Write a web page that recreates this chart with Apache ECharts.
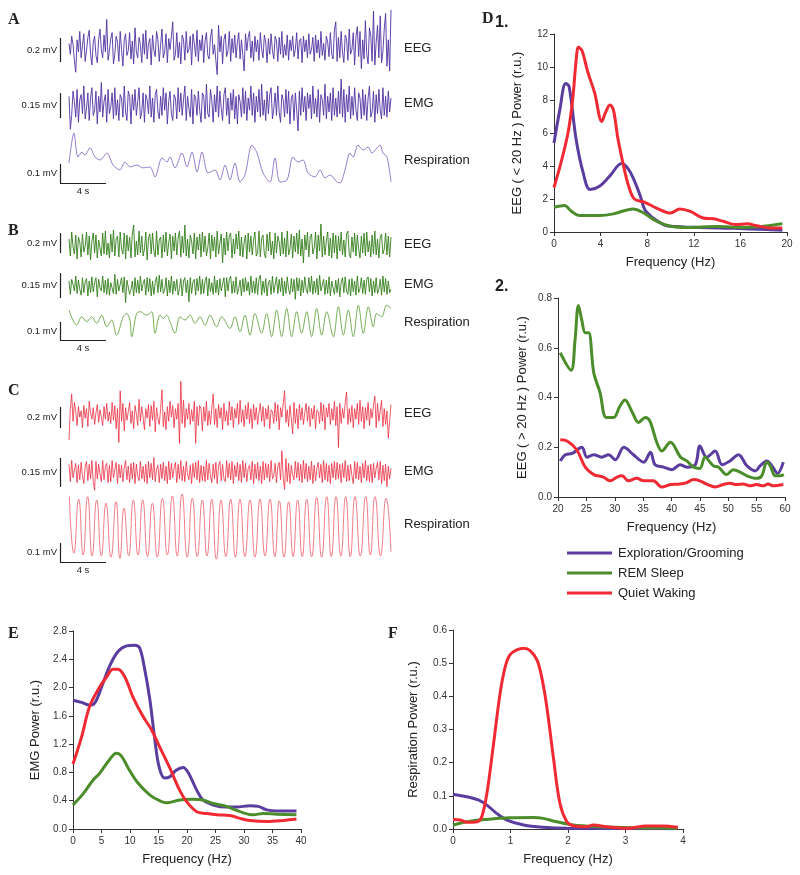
<!DOCTYPE html>
<html>
<head>
<meta charset="utf-8">
<script src="https://cdn.jsdelivr.net/npm/echarts@6/dist/echarts.min.js"></script>
<style>
  html, body { margin: 0; padding: 0; background: #fff; }
  #chart { width: 800px; height: 875px; }
</style>
</head>
<body>
<div id="chart"></div>
<script>
// raw recordings, uV, 240 samples over 28 s
const traceSeconds = 28

const eegA = [30,-60,90,20,-110,-210,60,-40,130,-90,10,110,-120,-30,80,140,-60,-150,40,90,
  -70,-130,60,150,-20,-90,100,-40,230,-110,-30,70,120,-140,-60,90,40,-120,130,-20,
  -160,60,110,-70,-30,120,-100,50,-140,160,-40,-90,80,20,-130,110,-60,140,-100,30,
  70,-150,100,-30,-80,130,60,-120,20,150,-90,-40,110,-130,70,-20,90,210,-110,-60,
  120,-90,40,-140,100,60,-110,130,-50,-20,90,-150,110,30,-80,140,-120,60,-30,100,
  -130,50,120,-70,-100,80,150,-60,20,-110,-230,180,-40,90,-140,60,110,-80,-30,130,
  -120,70,-50,100,-90,40,120,-100,60,-70,-200,110,-30,80,130,-90,50,-120,90,-40,
  60,-110,120,-20,-90,100,40,-130,70,-60,110,-30,-100,90,50,-120,80,-60,130,-90,
  20,-70,100,-110,60,-30,90,-80,-20,120,-100,50,70,-130,90,-40,60,-90,110,-60,
  -20,80,-120,100,-50,60,-90,130,-70,30,-110,90,40,-80,120,-60,-100,140,210,-120,
  80,-90,130,-40,-130,100,70,-110,150,-60,-20,120,-150,90,170,-80,130,-180,60,-100,
  220,-60,-140,160,90,-120,300,-150,40,180,-90,260,-130,-40,150,280,-160,60,-200,310]

const emgA = [50,-140,-60,80,20,-70,90,-100,30,60,-50,110,-80,-20,70,-90,40,100,-60,-30,
  80,-110,50,-40,130,-70,20,60,-100,90,-50,-10,70,-80,100,-60,30,-90,60,40,
  -70,110,-40,-90,80,50,-110,60,-30,90,-60,20,100,-80,-40,70,-100,60,30,-50,
  110,-70,40,-100,60,90,-40,-80,50,-60,100,-30,70,-110,20,80,-50,-90,60,40,
  -80,100,-40,70,-60,30,110,-90,50,-20,-70,90,-110,60,40,-60,80,-30,-100,70,
  50,-80,120,-50,-70,90,30,-100,60,-40,110,-70,80,-20,-90,60,100,-60,40,-110,
  70,-30,90,-80,50,-110,60,20,-70,100,-50,80,-90,40,-30,110,-60,70,-100,50,
  -40,90,-70,120,-60,30,-90,80,-50,60,100,-80,-20,70,-60,110,-40,-100,60,30,
  -70,90,-50,80,-110,40,60,-90,70,-30,-150,80,-60,100,-40,50,-90,70,-20,60,
  -80,110,-50,40,-70,90,-100,60,30,-60,120,-80,50,-40,70,-90,100,-60,40,-70,
  80,-50,150,-70,90,-100,60,-40,110,-80,50,-60,100,-30,-90,70,40,-80,90,-60,
  60,-90,40,110,-70,-40,80,-100,60,-50,90,-30,-80,100,-60,50,-70,80,-40,40]

const respATime = [0,0.43,0.78,1.13,1.39,1.83,2.26,2.7,3.3,3.83,4.43,4.87,5.3,5.91,6.43,7.04,7.48,8.09,8.52,8.78,
  9.22,9.83,10.26,10.7,11.13,11.57,12.09,12.7,13.13,13.57,14,14.43,14.87,15.3,15.91,16.35,16.87,17.48,17.91,18.35,
  18.96,19.48,19.91,20.35,20.78,21.39,21.83,22.26,22.7,23.3,23.57,24,24.43,24.7,25.13,25.57,26,26.35,26.78,27.04,
  27.3,27.65,28]
const respAValue = [106,265,138,164,148,186,138,122,159,95,69,111,85,95,80,85,32,133,111,138,
  80,159,85,164,58,164,53,69,16,95,16,106,5,42,201,159,53,5,133,5,
  16,138,111,122,53,32,69,27,42,5,0,69,159,138,201,175,191,159,186,201,
  159,138,5]

const eegB = [60,-110,130,-20,-90,100,-140,80,30,-120,110,-70,-10,130,-100,90,-150,40,120,-80,
  100,-130,50,70,-110,120,-90,140,-100,20,-130,110,-70,150,-110,60,90,-120,130,-40,
  -90,120,-140,100,-60,80,-130,110,200,-120,40,-100,140,-80,90,-110,-40,130,-150,70,
  110,-90,120,-60,-120,140,-100,50,80,-130,100,-70,130,-110,20,110,-140,90,-60,120,
  -100,70,140,-120,90,-80,200,-110,60,-130,100,40,-90,120,-140,80,-50,110,-120,130,
  -70,90,-110,-30,120,-140,100,-60,80,-120,140,-90,20,110,-180,70,-100,130,-60,90,
  120,-130,60,-90,110,-40,140,-110,80,-120,30,100,-140,120,-70,90,-100,50,130,-110,
  -80,140,-120,70,100,-90,-130,110,-60,130,-100,40,-140,120,-80,90,30,-110,130,-90,
  70,-120,140,-100,-40,110,-130,90,-70,120,-90,150,-110,60,-180,100,-50,130,-120,80,
  110,-90,-30,130,-140,100,-60,210,-120,90,-100,40,130,-110,70,-130,120,-80,100,-140,
  90,-60,130,-100,50,-120,110,140,-90,-130,80,-70,120,-110,100,-40,-130,90,-80,120,
  -110,130,-70,40,-120,100,-90,140,-100,60,-130,80,110,-90,-40,120,-100,90,-120,80]

const emgB = [30,-50,40,10,-30,60,-45,35,-20,-55,50,-40,25,45,-60,30,-40,55,-35,20,
  50,-65,40,-10,-30,60,-40,35,-50,45,-55,20,30,-45,70,-50,40,-30,-20,50,
  -40,55,-100,35,45,-50,-20,30,-60,50,-40,35,-45,60,-30,15,40,-55,50,-35,
  45,-60,30,-50,20,55,-40,65,-35,40,-45,-25,50,-60,35,-40,60,-50,30,-30,
  40,-55,-15,45,-60,30,50,-40,35,-95,50,-45,25,40,-55,45,-30,60,-50,40,
  -45,30,55,-60,45,-35,20,-50,60,-40,35,-55,45,-30,-20,50,-65,50,-30,40,
  60,-45,30,-40,55,-50,-15,35,-60,45,-35,50,-30,25,-55,60,-40,30,-45,50,
  -50,40,65,-55,30,-40,45,-60,20,35,-50,60,-40,-30,55,-45,40,-35,50,-60,
  30,-45,55,-20,-50,45,-35,40,-80,50,-30,45,-60,35,-40,55,-20,-45,50,-35,
  60,-50,30,-40,45,-55,65,-30,-20,40,-50,35,-45,55,-60,30,40,-50,35,-40,
  45,-65,20,50,-40,55,-30,-50,40,-60,45,-35,30,-55,60,-40,-15,50,-45,35,
  -50,40,55,-35,45,-60,30,-40,50,-45,-20,40,-55,60,-35,45,-50,30,-40,-20]

const respBTime = [0,0.67,1.1,1.54,1.97,2.41,2.84,3.28,3.71,4.14,4.72,5.01,5.3,5.45,5.88,6.17,6.75,7.19,7.48,7.91,
  8.2,8.49,8.78,9.22,9.65,10.09,10.52,10.96,11.39,11.83,12.26,12.84,13.28,14,14.43,14.87,15.3,15.74,16.17,16.75,
  17.19,17.62,18.06,18.49,18.93,19.36,19.8,20.23,20.67,21.1,21.54,21.97,22.41,22.99,23.42,23.86,24.29,24.72,25.16,25.59,
  26.03,26.46,26.75,27.19,27.62,28]
const respBValue = [165,82,128,101,128,92,137,73,110,27,128,146,110,18,146,156,137,156,37,137,
  119,137,101,37,128,110,137,92,128,82,137,73,128,64,128,46,137,27,146,37,
  146,18,165,18,174,18,156,37,156,18,174,27,156,18,183,27,165,18,192,37,
  183,73,146,128,192,174]

const eegC = [-240,60,200,-60,120,30,-100,80,-20,40,-120,90,-30,60,-110,130,20,-40,70,-90,
  20,100,-70,50,-20,-100,80,-40,110,-60,30,-80,120,-50,90,-130,60,-260,230,-60,
  110,-150,70,-50,30,120,-80,40,-130,90,10,-100,150,-60,80,-20,-140,60,-30,100,
  -110,90,-50,130,-160,70,-30,-90,60,240,-110,30,-140,80,-60,130,-20,90,-120,60,
  -40,110,-270,320,-80,140,-120,60,-40,110,-90,50,-60,130,-270,80,-100,90,60,-150,
  80,-60,130,-100,40,-90,70,200,-90,60,-120,100,-30,70,-140,110,-60,40,-100,130,
  -50,80,-120,60,-30,110,-90,140,-70,50,-110,90,-40,120,-80,60,-130,100,-50,70,
  -90,20,110,-60,80,-110,60,-40,90,-130,50,30,-80,120,-60,100,-140,70,-20,110,
  230,-70,50,-110,90,-40,-180,120,-80,60,-130,100,-50,70,-90,20,110,-60,80,-110,
  60,-40,90,-130,50,30,-80,120,-60,100,-140,70,-20,110,-90,60,-50,130,-100,80,
  -310,110,-80,60,-30,120,220,-90,60,-70,90,-120,60,-40,110,-90,140,-60,80,-130,
  70,-50,120,-100,60,-30,90,180,-120,110,-60,40,140,-110,60,-90,40,-220,-60,100]

const emgC = [40,-50,60,-30,10,45,-55,35,-40,50,-20,-60,30,55,-45,40,-35,60,-50,-95,
  55,-35,40,-10,-50,60,-40,30,45,-55,35,-50,60,-30,-40,50,-60,40,-30,35,
  -50,20,60,-40,30,-55,45,-35,50,-60,40,-20,-45,55,-35,30,-50,40,-60,55,
  -30,45,-40,75,-50,15,35,-55,40,-35,50,-45,30,-60,55,-40,45,-30,20,50,
  -55,40,-35,60,-45,30,-50,55,-10,-40,35,-60,45,-30,50,-40,60,-55,35,-45,
  30,-50,60,-40,45,-20,-55,40,-35,50,-60,30,55,-45,40,-35,-50,60,-30,45,
  -40,55,-60,35,-25,50,-45,40,-55,60,-30,45,-50,20,35,-40,55,-60,40,-35,
  50,-45,30,-60,55,-40,45,-30,40,-50,60,-35,-20,45,-55,30,50,-40,110,-30,
  -90,70,-50,45,-60,35,-15,-40,55,-30,50,-45,40,-55,60,-35,45,-50,30,-40,
  55,-60,35,-45,20,50,-30,40,-55,60,-40,45,-50,35,-60,45,-30,55,-40,50,
  -35,40,-55,45,-30,60,-50,35,-45,40,-20,-60,55,-35,50,-40,30,-55,45,-30,
  60,-45,35,-50,40,-55,45,-30,20,50,-40,55,-60,35,-45,40,-75,30,-35,20]

// quiet waking breathing: peaks and troughs
const respCPeakTime = [0.03,0.84,1.62,2.41,3.22,4.09,4.78,5.59,6.41,7.25,8.12,8.99,9.83,10.72,11.59,12.41,13.22,14.06,14.87,15.74,
  16.61,17.48,18.29,19.1,19.88,20.67,21.54,22.41,23.22,24.06,24.87,25.8,26.61,27.57]
const respCPeak = [344,330,344,326,309,317,282,326,326,309,335,347,358,335,326,330,326,330,330,326,
  330,330,322,317,326,330,340,344,344,344,344,344,344,335]
const respCTroughTime = [0.43,1.23,2.01,2.81,3.65,4.43,5.19,6,6.83,7.68,8.55,9.41,10.28,11.15,12,12.81,13.64,14.47,15.3,16.17,
  17.04,17.9,18.7,19.49,20.28,21.1,21.97,22.81,23.64,24.46,25.33,26.2,27.09,28]
const respCTrough = [46,37,32,32,25,19,32,37,28,25,37,32,25,28,32,14,28,25,28,25,
  32,28,25,28,28,28,25,28,32,28,32,37,32,54]

// power spectra (r.u.)
const d1ExploFreq = [0,0.5,1.0,1.3,1.9,2.5,3.1,3.9,4.8,5.8,6.4,6.9,7.4,7.8,8.5,9.4,10,12.5,15.4,18.3,19.6]
const d1ExploPow = [5.4,7.4,9.0,8.8,5.6,3.6,2.57,2.77,3.4,4.15,3.8,3.1,2.2,1.35,0.85,0.45,0.35,0.27,0.22,0.15,0.1]
const d1RemFreq = [0,0.9,1.5,2.2,3.9,5.1,6.8,7.7,8.8,10,11.4,14,16.3,18,19.6]
const d1RemPow = [1.5,1.6,1.25,1.0,1.0,1.1,1.4,1.15,0.65,0.35,0.28,0.33,0.28,0.35,0.5]
const d1QuietFreq = [0,0.6,1.2,1.6,1.9,2.1,2.4,2.9,3.5,4.1,4.4,4.8,5.1,5.5,6.1,6.4,6.9,7.8,8.8,10,10.8,11.7,12.8,13.7,14.5,15.6,16.6,17.4,18.6,19.6]
const d1QuietPow = [2.7,4.2,6.0,8.0,10.4,11.2,11.0,9.7,8.4,6.7,7.2,7.7,7.4,5.6,3.6,2.8,2.0,1.8,1.45,1.15,1.4,1.25,0.85,0.8,0.65,0.45,0.5,0.38,0.24,0.24]

const d2ExploFreq = [20.4,21.3,22.5,24.2,25.1,26.3,27.7,28.9,30.1,31.6,33.3,35.1,36.3,37.1,38.6,40.1,41.5,42.7,44.2,45,46.2,47.7,48.9,50.3,51.8,53.3,54.8,55.6,56.8,57.7,58.7,59.7]
const d2ExploPow = [0.145,0.17,0.175,0.2,0.16,0.17,0.16,0.17,0.15,0.2,0.17,0.14,0.18,0.13,0.12,0.11,0.13,0.12,0.13,0.205,0.16,0.185,0.13,0.145,0.17,0.125,0.105,0.125,0.145,0.125,0.095,0.14]
const d2RemFreq = [20.4,22.3,23,23.6,24.2,24.8,25.4,26.3,27.4,28.5,29.8,30.9,31.8,33,34.2,35.4,36.2,37.4,38.3,39.8,41.6,42.7,43.9,45,45.9,47.4,48.3,49.7,50.9,52.1,53.3,55,55.9,56.8,57.4,58.3,59.1,59.8]
const d2RemPow = [0.58,0.51,0.63,0.77,0.71,0.66,0.66,0.5,0.42,0.32,0.32,0.365,0.39,0.345,0.3,0.32,0.305,0.22,0.185,0.22,0.16,0.145,0.12,0.115,0.16,0.125,0.12,0.09,0.11,0.1,0.085,0.075,0.085,0.14,0.125,0.085,0.085,0.09]
const d2QuietFreq = [20.4,21.6,23.3,24.8,26.3,28,29.2,30.4,31.3,32.4,33.9,35.1,36.8,38.3,39.8,41.5,42.7,43.9,45,46.2,47.7,49.1,50.3,51.5,52.6,53.8,55,56.2,57,57.9,59.7]
const d2QuietPow = [0.23,0.225,0.19,0.12,0.09,0.08,0.065,0.08,0.085,0.065,0.075,0.065,0.065,0.04,0.05,0.052,0.058,0.07,0.065,0.052,0.04,0.05,0.055,0.05,0.052,0.045,0.05,0.045,0.052,0.045,0.05]

const eExploFreq = [0,1.5,2.9,3.8,4.7,6.4,7.9,9.4,10.8,11.7,12.6,13.5,14.3,15.1,16.1,17,18.1,19.3,20.2,21.7,22.8,24.6,26.9,28.7,31,32.5,34,35.7,39.2]
const eExploPow = [1.82,1.79,1.75,1.78,1.94,2.3,2.51,2.59,2.6,2.56,2.25,1.82,1.3,0.88,0.72,0.74,0.83,0.87,0.8,0.55,0.41,0.34,0.31,0.31,0.33,0.32,0.27,0.255,0.255]
const eRemFreq = [0,1.8,3.5,4.7,6.4,7.6,8.5,9.7,11.4,13.5,15.2,16.4,18.7,21,22.8,24.6,26.9,29.3,31.6,33.4,35.7,39.2]
const eRemPow = [0.34,0.5,0.69,0.79,0.98,1.07,1.03,0.86,0.65,0.48,0.4,0.37,0.41,0.42,0.41,0.36,0.32,0.245,0.2,0.22,0.21,0.2]
const eQuietFreq = [0,1.5,2.9,4.7,5.9,7,7.9,9.1,10.5,12.3,13.8,15.2,17,18.7,19.9,21.7,23.4,25.2,27.5,29.3,31,34,36.9,39.2]
const eQuietPow = [0.92,1.3,1.73,2.01,2.15,2.26,2.26,2.15,1.87,1.59,1.4,1.16,0.86,0.55,0.39,0.245,0.22,0.2,0.19,0.15,0.12,0.105,0.12,0.14]

const fExploFreq = [0,0.24,0.45,0.59,0.76,0.94,1.23,1.57,1.98,3.91]
const fExploPow = [0.105,0.097,0.087,0.072,0.047,0.027,0.012,0.005,0.002,0.001]
const fRemFreq = [0,0.24,0.59,0.99,1.4,1.57,1.8,2.09,2.55,3.13,3.91]
const fRemPow = [0.012,0.022,0.029,0.034,0.035,0.032,0.022,0.012,0.007,0.004,0.002]
const fQuietFreq = [0,0.13,0.24,0.42,0.5,0.59,0.7,0.82,0.91,0.99,1.11,1.23,1.34,1.46,1.54,1.63,1.75,1.86,1.98,2.09,2.32,2.44,2.67,3.02,3.36,3.65,3.91]
const fQuietPow = [0.029,0.027,0.02,0.022,0.037,0.108,0.25,0.41,0.49,0.525,0.54,0.545,0.538,0.51,0.46,0.37,0.21,0.077,0.022,0.01,0.007,0.012,0.007,0.002,0.009,0.009,0.005]

const stateNames = ['Exploration/Grooming', 'REM Sleep', 'Quiet Waking']
const stateColors = ['#5a3d9e', '#4c8d2b', '#f02a33']

const sans = 'Liberation Sans, Arial, Helvetica, sans-serif'
const serif = 'Liberation Serif, Times New Roman, serif'

const zip = (xs, ys) => xs.map((x, i) => [x, ys[i]])
const sampled = vals => vals.map((v, i) => [i * traceSeconds / (vals.length - 1), v])
const interleave = (t1, v1, t2, v2) => {
  const out = []
  t1.forEach((t, i) => {
    out.push([t, v1[i]])
    if (i < t2.length) out.push([t2[i], v2[i]])
  })
  if (t2.length > t1.length) out.push([t2[t2.length - 1], v2[v2.length - 1]])
  return out
}

const grid = []
const xAxis = []
const yAxis = []
const series = []

// one raw trace strip
function addTrace(top, height, yMin, yMax, data, color, width, smooth) {
  const idx = grid.length
  grid.push({ left: 69, width: 322, top: top, height: height })
  xAxis.push({ type: 'value', gridIndex: idx, min: 0, max: traceSeconds, show: false })
  yAxis.push({ type: 'value', gridIndex: idx, min: yMin, max: yMax, show: false })
  series.push({
    type: 'line', xAxisIndex: idx, yAxisIndex: idx, data: data,
    showSymbol: false, smooth: smooth || false, silent: true,
    lineStyle: { color: color, width: width }
  })
}

addTrace(8, 70, -258, 325, sampled(eegA), '#4f32a0', 0.9)
addTrace(78, 54, -156, 156, sampled(emgA), '#4f32a0', 0.9)
addTrace(128, 57, -11, 292, zip(respATime, respAValue), '#7a5cc0', 0.8, 0.3)
addTrace(222, 44, -210, 230, sampled(eegB), '#337f1c', 0.9)
addTrace(270, 36, -120, 96, sampled(emgB), '#337f1c', 0.9)
addTrace(303, 39, -11, 204, zip(respBTime, respBValue), '#55992f', 0.8, 0.35)
addTrace(380, 70, -333, 333, sampled(eegC), '#ea2438', 0.75)
addTrace(446, 48, -114, 135, sampled(emgC), '#ea2438', 0.75)
addTrace(490, 74, -11, 379, interleave(respCPeakTime, respCPeak, respCTroughTime, respCTrough), '#ef5a68', 0.8, 0.55)

// one spectrum panel
function addSpectrum(box, xMin, xMax, xStep, yMax, yStep, yDigits, yName, yGap, curves) {
  const idx = grid.length
  grid.push(box)
  const axisLine = { show: true, lineStyle: { color: '#333', width: 1 } }
  const axisTick = { show: true, length: 4, lineStyle: { color: '#333' } }
  xAxis.push({
    type: 'value', gridIndex: idx, min: xMin, max: xMax, interval: xStep,
    axisLine: axisLine, axisTick: axisTick, splitLine: { show: false },
    axisLabel: { color: '#333', fontSize: 10, fontFamily: sans, margin: 7 },
    name: 'Frequency (Hz)', nameLocation: 'middle', nameGap: 24,
    nameTextStyle: { color: '#222', fontSize: 13, fontFamily: sans }
  })
  yAxis.push({
    type: 'value', gridIndex: idx, min: 0, max: yMax, interval: yStep,
    axisLine: axisLine, axisTick: axisTick, splitLine: { show: false },
    axisLabel: {
      color: '#333', fontSize: 10, fontFamily: sans, margin: 6,
      formatter: v => yDigits ? v.toFixed(yDigits) : String(Math.round(v))
    },
    name: yName, nameLocation: 'middle', nameGap: yGap, nameRotate: 90,
    nameTextStyle: { color: '#222', fontSize: 13, fontFamily: sans }
  })
  curves.forEach((c, k) => {
    series.push({
      type: 'line', name: stateNames[k], xAxisIndex: idx, yAxisIndex: idx,
      data: zip(c[0], c[1]), showSymbol: false, smooth: 0.35,
      lineStyle: { color: stateColors[k], width: 3 },
      itemStyle: { color: stateColors[k] }
    })
  })
}

addSpectrum({ left: 554, width: 233, top: 34, height: 198 }, 0, 20, 4, 12, 2, 0,
  'EEG ( < 20 Hz ) Power (r.u.)', 30,
  [[d1ExploFreq, d1ExploPow], [d1RemFreq, d1RemPow], [d1QuietFreq, d1QuietPow]])
addSpectrum({ left: 558, width: 227, top: 298, height: 199 }, 20, 60, 5, 0.8, 0.2, 1,
  'EEG ( > 20 Hz ) Power (r.u.)', 29,
  [[d2ExploFreq, d2ExploPow], [d2RemFreq, d2RemPow], [d2QuietFreq, d2QuietPow]])
addSpectrum({ left: 73, width: 228, top: 631, height: 198 }, 0, 40, 5, 2.8, 0.4, 1,
  'EMG Power (r.u.)', 31,
  [[eExploFreq, eExploPow], [eRemFreq, eRemPow], [eQuietFreq, eQuietPow]])
addSpectrum({ left: 453, width: 230, top: 630, height: 199 }, 0, 4, 1, 0.6, 0.1, 1,
  'Respiration Power (r.u.)', 33,
  [[fExploFreq, fExploPow], [fRemFreq, fRemPow], [fQuietFreq, fQuietPow]])

// labels and scale bars
const txt = (x, y, s, opt) => ({
  type: 'text', x: x, y: y, silent: true,
  style: Object.assign({ text: s, fill: '#222', font: '13px ' + sans, textVerticalAlign: 'middle' }, opt || {})
})
const bar = (x1, y1, x2, y2) => ({
  type: 'line', silent: true,
  shape: { x1: x1, y1: y1, x2: x2, y2: y2 },
  style: { stroke: '#222', lineWidth: 1.2 }
})

const graphic = []
;[['A', 12], ['B', 223], ['C', 383]].forEach(p => {
  graphic.push(txt(8, p[1], p[0], { font: 'bold 16px ' + serif, textVerticalAlign: 'top' }))
})
graphic.push(txt(482, 11, 'D', { font: 'bold 16px ' + serif, textVerticalAlign: 'top' }))
graphic.push(txt(495, 15, '1.', { font: 'bold 16px ' + sans, textVerticalAlign: 'top' }))
graphic.push(txt(495, 279, '2.', { font: 'bold 16px ' + sans, textVerticalAlign: 'top' }))
graphic.push(txt(8, 626, 'E', { font: 'bold 16px ' + serif, textVerticalAlign: 'top' }))
graphic.push(txt(388, 626, 'F', { font: 'bold 16px ' + serif, textVerticalAlign: 'top' }))

const stripLabels = [
  ['EEG', 48], ['EMG', 103], ['Respiration', 160],
  ['EEG', 244], ['EMG', 284], ['Respiration', 322],
  ['EEG', 413], ['EMG', 471], ['Respiration', 524]
]
stripLabels.forEach(l => graphic.push(txt(404, l[1], l[0])))

const scaleBars = [
  // [top, bottom, text]
  [38, 62, '0.2 mV'], [93, 118, '0.15 mV'], [164, 183, '0.1 mV'],
  [233, 253, '0.2 mV'], [273, 298, '0.15 mV'], [322, 340, '0.1 mV'],
  [407, 428, '0.2 mV'], [458, 487, '0.15 mV'], [543, 562, '0.1 mV']
]
scaleBars.forEach((b, i) => {
  graphic.push(bar(60.5, b[0], 60.5, b[1]))
  const ty = i % 3 === 2 ? b[0] + 9 : (b[0] + b[1]) / 2
  graphic.push(txt(57, ty, b[2], { font: '9.5px ' + sans, textAlign: 'right' }))
  if (i % 3 === 2) {
    graphic.push(bar(60, b[1] + 0.5, 106, b[1] + 0.5))
    graphic.push(txt(83, b[1] + 8, '4 s', { font: '9.5px ' + sans, textAlign: 'center' }))
  }
})

const chart = echarts.init(document.getElementById('chart'), null, { renderer: 'canvas' })
chart.setOption({
  animation: false,
  backgroundColor: '#fff',
  grid: grid,
  xAxis: xAxis,
  yAxis: yAxis,
  series: series,
  legend: {
    data: stateNames, orient: 'vertical', left: 562, top: 541,
    icon: 'rect', itemWidth: 45, itemHeight: 3, itemGap: 6,
    textStyle: { color: '#222', fontSize: 13, fontFamily: sans, lineHeight: 14, padding: [0, 0, 0, 1] },
    selectedMode: false
  },
  graphic: graphic
})
</script>
</body>
</html>
